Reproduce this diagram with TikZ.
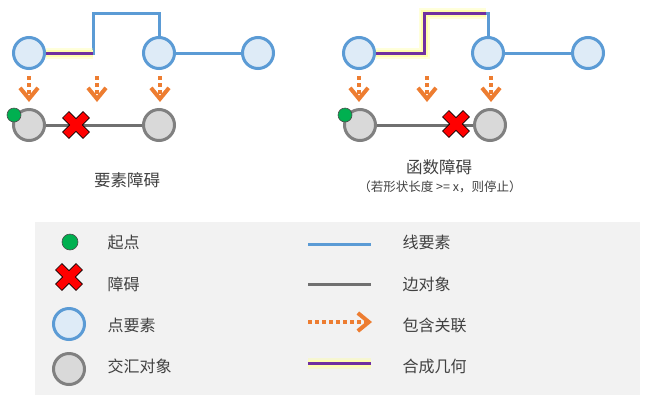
\documentclass[tikz,border=0pt]{standalone}
\usepackage{fontspec}
\setmainfont{Noto Sans CJK SC}
\usetikzlibrary{arrows.meta}
\definecolor{featblue}{HTML}{5B9BD5}
\definecolor{featfill}{HTML}{DEEBF7}
\definecolor{junfill}{HTML}{D9D9D9}
\definecolor{jungray}{HTML}{808080}
\definecolor{edgegray}{HTML}{707070}
\definecolor{relorange}{HTML}{ED7D31}
\definecolor{geompurple}{HTML}{7030A0}
\definecolor{glowyellow}{HTML}{FFFF99}
\definecolor{startgreen}{HTML}{00B050}
\definecolor{legendbg}{HTML}{F2F2F2}

\begin{document}
\begin{tikzpicture}[x=1pt, y=-1pt,
    pointfeat/.style={circle, draw=featblue, fill=featfill, line width=3pt, minimum size=31pt, inner sep=0pt},
    junction/.style={circle, draw=jungray, fill=junfill, line width=3pt, minimum size=31pt, inner sep=0pt},
    startpt/.style={circle, draw=black!70, fill=startgreen, line width=0.6pt, minimum size=14pt, inner sep=0pt},
    featline/.style={featblue, line width=3pt},
    edgeline/.style={edgegray, line width=3pt},
    relarrow/.style={relorange, line width=4pt, dash pattern=on 4pt off 3pt,
        -{Straight Barb[length=11pt, width=18pt, line width=4pt]}},
    geomglow/.style={glowyellow, line width=11pt, opacity=0.35},
    geomcore/.style={glowyellow!80!white, line width=7pt},
    geomline/.style={geompurple, line width=3pt},
    caption/.style={font=\fontsize{16.5}{18}\selectfont, text=black!75},
    legtext/.style={font=\fontsize{16}{18}\selectfont, text=black!75, anchor=west},
    blocker/.pic={\filldraw[fill=red, draw=black, line width=0.6pt, rotate=45]
        (4.5,14.5) -- (4.5,4.5) -- (14.5,4.5) -- (14.5,-4.5) -- (4.5,-4.5) -- (4.5,-14.5)
        -- (-4.5,-14.5) -- (-4.5,-4.5) -- (-14.5,-4.5) -- (-14.5,4.5) -- (-4.5,4.5) -- (-4.5,14.5) -- cycle;}
  ]
  \useasboundingbox (0,0) rectangle (650,408);

  % feature barrier (left)
  \node[pointfeat] (a1) at (29,53) {};
  \node[pointfeat] (a2) at (159,53) {};
  \node[pointfeat] (a3) at (258,53) {};
  \coordinate (b1) at (93,53);
  \coordinate (b2) at (93,13);
  \coordinate (b3) at (159,13);
  \draw[featline] (a1) -- (b1) -- (b2) -- (b3) -- (a2);
  \draw[featline] (a2) -- (a3);
  \draw[geomglow] (a1) -- (b1);
  \draw[geomcore] (a1) -- (b1);
  \draw[geomline] (a1) -- (b1);

  \node[junction] (j1) at (29,125) {};
  \node[junction] (j2) at (159,125) {};
  \draw[edgeline] (j1) -- (j2);
  \node[startpt] (s1) at (14,115) {};
  \pic at (76,125) {blocker};

  \coordinate (r1a) at (29,76);  \coordinate (r1b) at (29,102);
  \coordinate (r2a) at (97,76);  \coordinate (r2b) at (97,102);
  \coordinate (r3a) at (160,76); \coordinate (r3b) at (160,102);
  \draw[relarrow] (r1a) -- (r1b);
  \draw[relarrow] (r2a) -- (r2b);
  \draw[relarrow] (r3a) -- (r3b);

  \node[caption] (cap1) at (127,180) {要素障碍};

  % function barrier (right)
  \node[pointfeat] (c1) at (359,53) {};
  \node[pointfeat] (c2) at (488,53) {};
  \node[pointfeat] (c3) at (588,53) {};
  \coordinate (d1) at (424,53);
  \coordinate (d2) at (424,13);
  \coordinate (d3) at (488,13);
  \coordinate (d4) at (486,13);
  \draw[featline] (c1) -- (d1) -- (d2) -- (d3) -- (c2);
  \draw[featline] (c2) -- (c3);
  \draw[geomglow] (c1) -- (d1) -- (d2) -- (d4);
  \draw[geomcore] (c1) -- (d1) -- (d2) -- (d4);
  \draw[geomline] (c1) -- (d1) -- (d2) -- (d4);

  \node[junction] (k1) at (360,125) {};
  \node[junction] (k2) at (490,125) {};
  \draw[edgeline] (k1) -- (k2);
  \node[startpt] (s2) at (345,115) {};
  \pic at (456,124) {blocker};

  \coordinate (q1a) at (359,76); \coordinate (q1b) at (359,102);
  \coordinate (q2a) at (427,76); \coordinate (q2b) at (427,102);
  \coordinate (q3a) at (491,76); \coordinate (q3b) at (491,102);
  \draw[relarrow] (q1a) -- (q1b);
  \draw[relarrow] (q2a) -- (q2b);
  \draw[relarrow] (q3a) -- (q3b);

  \node[caption] (cap2) at (439,167) {函数障碍};
  \node[font=\fontsize{12.5}{14}\selectfont, text=black!75] (cap3) at (440,187) {（若形状长度 >= x，则停止）};

  % legend
  \fill[legendbg] (35,222) rectangle (640,395);
  \node[startpt, minimum size=16pt] (g1) at (70,242) {};
  \pic at (69,277) {blocker};
  \node[pointfeat] (g3) at (69,324) {};
  \node[junction] (g4) at (69,369) {};
  \node[legtext] (t1) at (104,242) {起点};
  \node[legtext] (t2) at (104,284) {障碍};
  \node[legtext] (t3) at (104,325) {点要素};
  \node[legtext] (t4) at (104,366) {交汇对象};

  \coordinate (h1a) at (308,244); \coordinate (h1b) at (371,244);
  \coordinate (h2a) at (308,284); \coordinate (h2b) at (371,284);
  \coordinate (h3a) at (308,322); \coordinate (h3b) at (372,322);
  \coordinate (h4a) at (308,363); \coordinate (h4b) at (371,363);
  \draw[featline] (h1a) -- (h1b);
  \draw[edgeline] (h2a) -- (h2b);
  \draw[relarrow] (h3a) -- (h3b);
  \draw[geomglow] (h4a) -- (h4b);
  \draw[geomcore] (h4a) -- (h4b);
  \draw[geomline] (h4a) -- (h4b);
  \node[legtext] (u1) at (399,242) {线要素};
  \node[legtext] (u2) at (399,284) {边对象};
  \node[legtext] (u3) at (399,325) {包含关联};
  \node[legtext] (u4) at (399,366) {合成几何};
\end{tikzpicture}
\end{document}
